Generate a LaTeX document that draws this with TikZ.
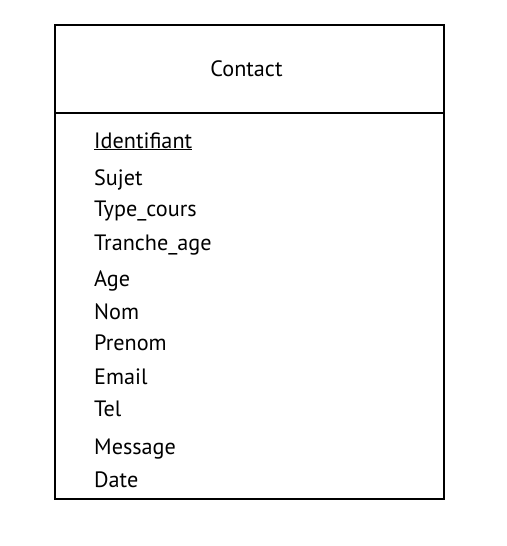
\documentclass[tikz,border=0pt]{standalone}
\usepackage{fontspec}
\setmainfont{PT Sans}
\begin{document}
\begin{tikzpicture}[x=1pt,y=-1pt,
  frame/.style={draw=black,line width=2pt},
  attr/.style={anchor=base west,inner sep=0pt,font=\fontsize{22.2}{26}\selectfont},
  title/.style={anchor=base,inner sep=0pt,font=\fontsize{22.2}{26}\selectfont}]
\useasboundingbox[fill=white] (0,0) rectangle (506,546);
\node[frame,minimum width=389pt,minimum height=474pt,anchor=north west,inner sep=0pt] (box) at (54,23.5) {};
\coordinate (sl) at (54,113);
\coordinate (sr) at (443,113);
\draw[line width=2pt] (sl) -- (sr);
\node[title] (t) at (246.5,76) {Contact};
\node[attr] (a1) at (94,148) {\underline{Identifiant}};
\node[attr] (a2) at (94,185) {Sujet};
\node[attr] (a3) at (94,216.5) {Type\_cours};
\node[attr] (a4) at (94,250) {Tranche\_age};
\node[attr] (a5) at (94,286.5) {Age};
\node[attr] (a6) at (94,319) {Nom};
\node[attr] (a7) at (94,350.5) {Prenom};
\node[attr] (a8) at (94,384) {Email};
\node[attr] (a9) at (94,416.5) {Tel};
\node[attr] (a10) at (94,454.5) {Message};
\node[attr] (a11) at (94,487) {Date};
\end{tikzpicture}
\end{document}
